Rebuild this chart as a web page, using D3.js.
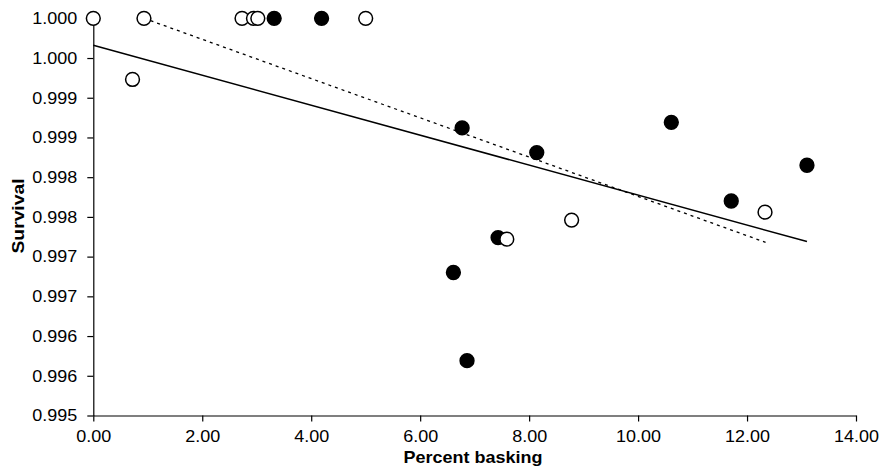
<!DOCTYPE html>
<html>
<head>
<meta charset="utf-8">
<script src="https://cdn.jsdelivr.net/npm/d3@7"></script>
<style>
  html, body { margin: 0; padding: 0; background: #fff; }
  svg { display: block; }
  text { font-family: "Liberation Sans", Arial, sans-serif; fill: #000; }
</style>
</head>
<body>
<svg id="chart" width="880" height="471"></svg>
<script>
// ---- data ----
const openX   = [0.00, 0.72, 0.93, 2.73, 2.94, 3.02, 5.00, 7.59, 8.78, 12.33];
const openY   = [1.0000, 0.99923, 1.0000, 1.0000, 1.0000, 1.0000, 1.0000, 0.99722, 0.99746, 0.99756];
const filledX = [3.32, 4.19, 6.61, 6.77, 6.86, 7.43, 8.14, 10.61, 11.71, 13.10];
const filledY = [1.0000, 1.0000, 0.99680, 0.99862, 0.99569, 0.99724, 0.99831, 0.99869, 0.99770, 0.99815];
const solidX  = [0.00, 13.10];
const solidY  = [0.99966, 0.99719];
const dottedX = [0.93, 12.34];
const dottedY = [1.0000, 0.99718];
const xTicks = [0, 2, 4, 6, 8, 10, 12, 14];
const yTickLabels = ["0.995","0.996","0.996","0.997","0.997","0.998","0.998","0.999","0.999","1.000","1.000"];
const yTicks = yTickLabels.map((_, i) => 0.995 + i * 0.0005);

// ---- layout ----
const svg = d3.select("#chart");
const x = d3.scaleLinear().domain([0, 14]).range([93.3, 856]);
const y = d3.scaleLinear().domain([0.995, 1.0]).range([415.5, 18.3]);
const FS = 16.5;
const SX = 1.09;

// axes
const xAxis = d3.axisBottom(x).tickValues(xTicks).tickFormat(d3.format(".2f"))
  .tickSizeInner(6).tickSizeOuter(0).tickPadding(9);
const yAxis = d3.axisLeft(y).tickValues(yTicks).tickFormat((d, i) => yTickLabels[i])
  .tickSizeInner(6).tickSizeOuter(0).tickPadding(9);

const gx = svg.append("g").attr("transform", `translate(0,${y(0.995)})`).call(xAxis);
const gy = svg.append("g").attr("transform", `translate(${x(0)},0)`).call(yAxis);
[gx, gy].forEach(g => {
  g.selectAll("path.domain").attr("stroke", "#000").attr("stroke-width", 1.2);
  g.selectAll(".tick line").attr("stroke", "#000").attr("stroke-width", 1.2);
  g.selectAll(".tick text").attr("font-size", FS)
    .attr("font-family", "Liberation Sans, Arial, sans-serif").attr("fill", "#000");
});
gx.selectAll(".tick text").attr("transform", `scale(${SX},1)`);
gy.selectAll(".tick text").attr("x", -16 / SX).attr("transform", `scale(${SX},1)`);

// lines (under points)
const line = d3.line().x(d => x(d[0])).y(d => y(d[1]));
svg.append("path")
  .datum(solidX.map((v, i) => [v, solidY[i]]))
  .attr("d", line).attr("fill", "none").attr("stroke", "#000").attr("stroke-width", 1.5);
svg.append("path")
  .datum(dottedX.map((v, i) => [v, dottedY[i]]))
  .attr("d", line).attr("fill", "none").attr("stroke", "#000").attr("stroke-width", 1.3)
  .attr("stroke-dasharray", "3,4");

// points
const R = 6.9;
svg.append("g").selectAll("circle")
  .data(filledX.map((v, i) => [v, filledY[i]]))
  .join("circle")
  .attr("cx", d => x(d[0])).attr("cy", d => y(d[1])).attr("r", R)
  .attr("fill", "#000").attr("stroke", "#000").attr("stroke-width", 1.5);
svg.append("g").selectAll("circle")
  .data(openX.map((v, i) => [v, openY[i]]))
  .join("circle")
  .attr("cx", d => x(d[0])).attr("cy", d => y(d[1])).attr("r", R)
  .attr("fill", "#fff").attr("stroke", "#000").attr("stroke-width", 1.5);

// axis titles
svg.append("text")
  .attr("transform", `translate(473,463.3) scale(${SX},1)`)
  .attr("text-anchor", "middle").attr("font-size", FS).attr("font-weight", "bold")
  .text("Percent basking");
svg.append("text")
  .attr("transform", "translate(24,216) rotate(-90) scale(1.17,1)")
  .attr("text-anchor", "middle").attr("font-size", FS).attr("font-weight", "bold")
  .text("Survival");
</script>
</body>
</html>
